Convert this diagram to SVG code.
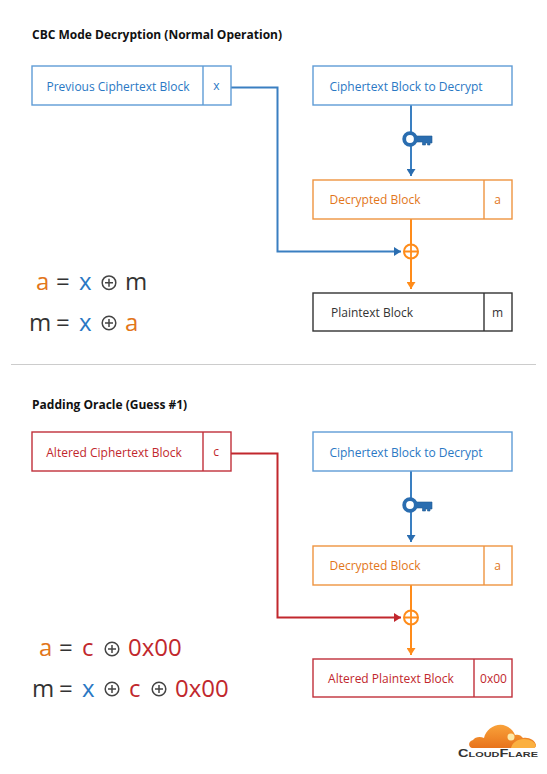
<svg xmlns="http://www.w3.org/2000/svg" width="547" height="774" viewBox="0 0 547 774">
<style>
text{font-family:"Open Sans","Noto Sans","Liberation Sans",sans-serif}
.t{font-size:12px;font-weight:700;fill:#111}
.l{font-size:12px;text-anchor:middle}
.b{fill:#2a78c4}.o{fill:#e2761a}.r{fill:#c1272d}.k{fill:#333}
.eq{font-size:24px}
.box{fill:#fff;stroke-width:1.4}
.bb{stroke:#5f9cd6}.bo{stroke:#ee9440}.br{stroke:#c0303a}.bk{stroke:#333}
.w{fill:none;stroke-width:2}
.wb{stroke:#3a7fc1}.wo{stroke:#ff8c1a}.wr{stroke:#c1272d}
.op{fill:none;stroke:#444;stroke-width:1.5}
</style>
<defs>
<linearGradient id="cloud" x1="0" y1="0" x2="0" y2="1"><stop offset="0" stop-color="#f9a23a"/><stop offset="1" stop-color="#e8731c"/></linearGradient>
<marker id="ab" markerUnits="userSpaceOnUse" markerWidth="8" markerHeight="9" refX="7" refY="4.500" orient="auto"><path d="M0 0L7 4.500L0 9z" fill="#2a6db0"/></marker>
<marker id="ao" markerUnits="userSpaceOnUse" markerWidth="8" markerHeight="9" refX="7" refY="4.500" orient="auto"><path d="M0 0L7 4.500L0 9z" fill="#ff8c1a"/></marker>
<marker id="ar" markerUnits="userSpaceOnUse" markerWidth="8" markerHeight="9" refX="7" refY="4.500" orient="auto"><path d="M0 0L7 4.500L0 9z" fill="#c1272d"/></marker>
<g id="key"><path d="M5 -3H22V4H20V6H17.500V4H15.500V6H12.500V3H5z" fill="#2a6db0" stroke="#1f5a96" stroke-width=".6"/><circle cx="0" cy="0" r="5.800" fill="#fff" stroke="#2a6db0" stroke-width="3.800"/></g>
<g id="xor"><circle cx="0" cy="0" r="7" fill="#fff" stroke="#ff8c1a" stroke-width="2"/><path d="M-7 0H7M0 -7V7" stroke="#ff8c1a" stroke-width="1.800" fill="none"/></g>
<g id="o"><circle cx="0" cy="0" r="6.800" class="op"/><path d="M-4 0H4M0 -4V4" class="op"/></g>
</defs>

<rect width="547" height="774" fill="#fff"/>
<text class="t" x="32" y="39">CBC Mode Decryption (Normal Operation)</text>
<text class="t" x="32" y="409">Padding Oracle (Guess #1)</text>
<path d="M11 364.500H536" stroke="#ccc" fill="none"/>

<g id="connectors">
<path class="w wb" d="M231 87.500H277.500V251.500H401" marker-end="url(#ab)"/>
<path class="w wb" d="M411 105V176" marker-end="url(#ab)"/>
<path class="w wo" d="M411 219V289" marker-end="url(#ao)"/>
<path class="w wr" d="M231 453.500H277.500V617.500H401" marker-end="url(#ar)"/>
<path class="w wb" d="M411 471V542" marker-end="url(#ab)"/>
<path class="w wo" d="M411 585V655" marker-end="url(#ao)"/>
<use href="#key" x="410" y="139"/>
<use href="#xor" x="411" y="251.500"/>
<use href="#key" x="410" y="505"/>
<use href="#xor" x="411" y="617.500"/>
</g>

<g id="prev-cipher"><rect class="box bb" x="32" y="66" width="199" height="39"/><path class="bb" d="M203 66V105" stroke-width="1.400"/><text class="l b" x="118" y="91">Previous Ciphertext Block</text><text class="l b" x="216.500" y="90">x</text></g>
<g id="cipher-1"><rect class="box bb" x="313" y="66" width="199" height="39"/><text class="l b" x="406" y="91">Ciphertext Block to Decrypt</text></g>
<g id="decrypted-1"><rect class="box bo" x="313" y="180" width="199" height="39"/><path class="bo" d="M484 180V219" stroke-width="1.400"/><text class="l o" x="375" y="204">Decrypted Block</text><text class="l o" x="497.500" y="204">a</text></g>
<g id="plain-1"><rect class="box bk" x="313" y="293" width="199" height="38"/><path class="bk" d="M484 293V331" stroke-width="1.400"/><text class="l k" x="372" y="317">Plaintext Block</text><text class="l k" x="497.500" y="317">m</text></g>

<g id="altered-cipher"><rect class="box br" x="32" y="432" width="199" height="39"/><path class="br" d="M203 432V471" stroke-width="1.400"/><text class="l r" x="114" y="457">Altered Ciphertext Block</text><text class="l r" x="216" y="456">c</text></g>
<g id="cipher-2"><rect class="box bb" x="313" y="432" width="199" height="39"/><text class="l b" x="406" y="457">Ciphertext Block to Decrypt</text></g>
<g id="decrypted-2"><rect class="box bo" x="313" y="546" width="199" height="39"/><path class="bo" d="M484 546V585" stroke-width="1.400"/><text class="l o" x="375" y="570">Decrypted Block</text><text class="l o" x="497.500" y="570">a</text></g>
<g id="plain-2"><rect class="box br" x="313" y="659" width="199" height="38"/><path class="br" d="M474 659V697" stroke-width="1.400"/><text class="l r" x="391" y="683">Altered Plaintext Block</text><text class="l r" x="493.500" y="683">0x00</text></g>

<g id="eq-1" class="eq"><text class="o" x="36" y="290">a</text><text class="k" x="56" y="290">=</text><text class="b" x="79" y="290">x</text><use href="#o" x="109" y="282.700"/><text class="k" x="125" y="290">m</text></g>
<g id="eq-2" class="eq"><text class="k" x="29" y="331">m</text><text class="k" x="56" y="331">=</text><text class="b" x="79" y="331">x</text><use href="#o" x="109" y="323"/><text class="o" x="125" y="331">a</text></g>
<g id="eq-3" class="eq"><text class="o" x="39" y="656">a</text><text class="k" x="59" y="656">=</text><text class="r" x="82" y="656">c</text><use href="#o" x="112" y="649"/><text class="r" x="128" y="656">0x00</text></g>
<g id="eq-4" class="eq"><text class="k" x="32" y="697">m</text><text class="k" x="59" y="697">=</text><text class="b" x="82" y="697">x</text><use href="#o" x="112" y="689"/><text class="r" x="129" y="697">c</text><use href="#o" x="159" y="689"/><text class="r" x="175" y="697">0x00</text></g>

<g id="logo">
<path d="M472 748C468 747 468 741 473 740C475 737 480 736 484 738C486 729 497 722 506 726C511 728 514 732 515 735C518 734 521 735 523 738C529 737 535 740 536 745C536 747 535 748 533 748z" fill="url(#cloud)"/>
<path d="M511 748C512 743 517 739 524 739C530 739 535 742 536 746L534 748z" fill="#fbb040"/>
<circle cx="511" cy="737" r="3.500" fill="#fde9a8"/>
<text x="458" y="757" font-size="7.500" font-weight="700" fill="#333" style="font-family:'Liberation Sans',sans-serif" textLength="80" lengthAdjust="spacingAndGlyphs"><tspan font-size="10">C</tspan>LOUD<tspan font-size="10">F</tspan>LARE</text>
</g>
</svg>
